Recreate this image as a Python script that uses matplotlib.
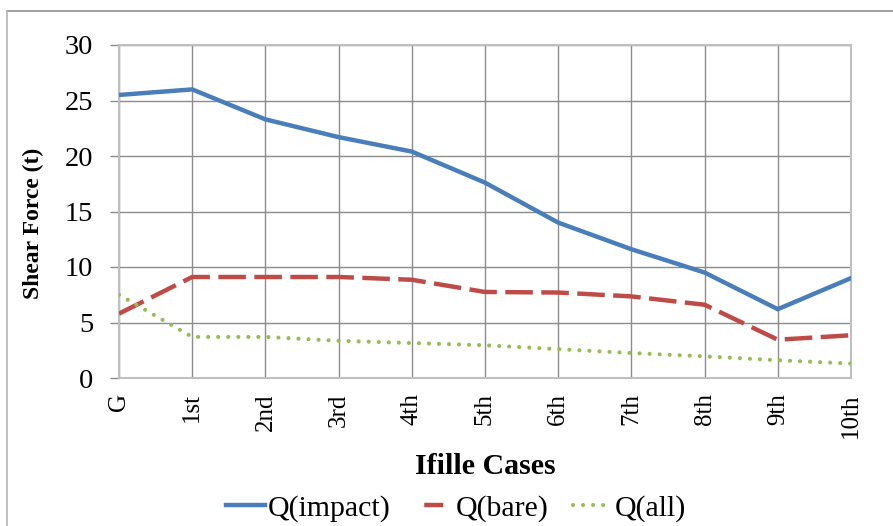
import matplotlib
matplotlib.use("Agg")
import matplotlib.pyplot as plt
from matplotlib.lines import Line2D

plt.rcParams['font.family'] = ['Liberation Serif', 'DejaVu Serif']

# Data
cases = ["G", "1st", "2nd", "3rd", "4th", "5th", "6th", "7th", "8th", "9th", "10th"]
q_impact = [25.5, 26.0, 23.3, 21.7, 20.4, 17.6, 14.0, 11.6, 9.5, 6.2, 9.0]
q_bare = [5.8, 9.1, 9.1, 9.1, 8.85, 7.75, 7.7, 7.35, 6.6, 3.45, 3.85]
q_all = [7.5, 3.7, 3.7, 3.35, 3.15, 2.95, 2.6, 2.25, 1.95, 1.6, 1.3]
y_ticks = [0, 5, 10, 15, 20, 25, 30]

W, H = 893, 526
fig = plt.figure(figsize=(W / 100, H / 100), dpi=100)
ax = fig.add_axes([119 / W, 1 - 378 / H, (851 - 119) / W, (378 - 45) / H])

x = list(range(len(cases)))
blue, red, green = "#4A7EBB", "#BE4B48", "#9BBB59"
lw = 3.2
glw = 3.0

ax.plot(x, q_impact, color=blue, lw=lw, solid_joinstyle="miter", label="Q(impact)", zorder=3)
ax.plot(x, q_bare, color=red, lw=lw, linestyle=(0, (6.2, 1.9)), label="Q(bare)", zorder=3)
ax.plot(x, q_all, color=green, lw=glw, linestyle=(0, (0.01, 2.4)),
        dash_capstyle="round", label="Q(all)", zorder=3)

ax.set_xlim(0, 10)
ax.set_ylim(0, 30)
ax.set_xticks(x)
ax.set_xticklabels(cases, rotation=90, fontsize=18)
ax.set_yticks(y_ticks)
ax.set_yticklabels([str(v) for v in y_ticks], fontsize=20.5)
ax.tick_params(axis="x", length=0, pad=11)
ax.tick_params(axis="y", length=6.5, width=1.0, color="#8C8C8C", pad=12)

ax.grid(True, color="#8C8C8C", lw=1.0, zorder=0)
ax.set_axisbelow(True)
for side in ["left", "bottom", "top", "right"]:
    ax.spines[side].set_color("#BFBFBF")
    ax.spines[side].set_linewidth(1.5)

fig.text(33 / W, 1 - 223 / H, "Shear Force (t)", rotation=90, fontsize=17,
         fontweight="bold", ha="center", va="center")
fig.text(485 / W, 1 - 466 / H, "Ifille Cases", fontsize=21.5,
         fontweight="bold", ha="center", va="center")

# Legend handles
h_blue = Line2D([], [], color=blue, lw=lw)
h_red = Line2D([], [], color=red, lw=lw, linestyle=(6.6, (4.3, 4.6)))
h_green = Line2D([], [], color=green, lw=glw, linestyle=(0, (0.01, 2.4)), dash_capstyle="round")
fig.legend([h_blue, h_red, h_green], ["Q(impact)", "Q(bare)", "Q(all)"],
           loc="center", bbox_to_anchor=(456 / W, 1 - 508 / H), ncol=3,
           frameon=False, fontsize=21.5, handlelength=1.3, handletextpad=0.1,
           columnspacing=0.8, borderpad=0)

# Chart area border
fig.add_artist(Line2D([7 / W, 1], [1 - 11 / H, 1 - 11 / H], color="#8F8F8F", lw=1.2))
fig.add_artist(Line2D([7 / W, 7 / W], [0, 1 - 11 / H], color="#B5B5B5", lw=1.2))

fig.savefig("out.png", dpi=100)
